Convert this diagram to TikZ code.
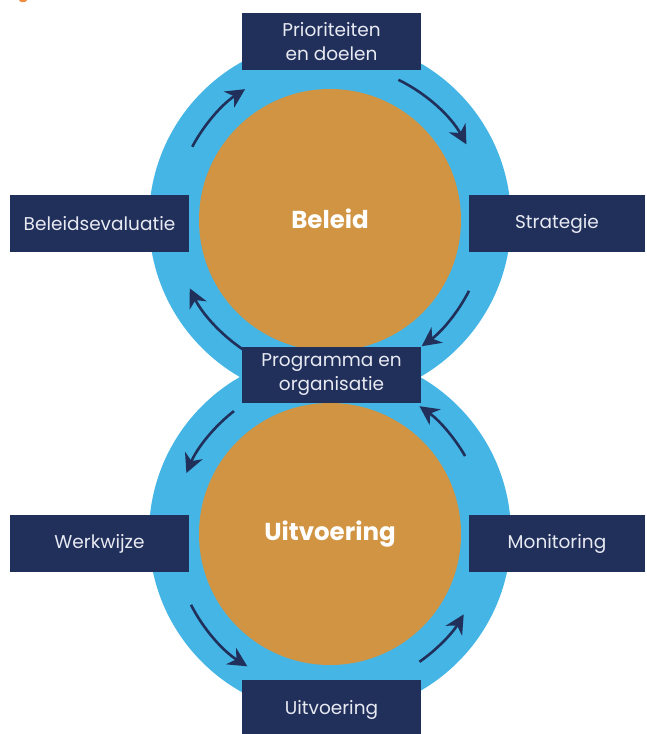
\documentclass[tikz,border=0pt]{standalone}
\usepackage{fontspec}
\setmainfont{Poppins}
\usetikzlibrary{arrows.meta,calc}
\definecolor{ringblue}{HTML}{44B5E4}
\definecolor{coreorange}{HTML}{D09443}
\definecolor{boxnavy}{HTML}{212F5B}
\definecolor{boxtext}{HTML}{E8EAF2}
\definecolor{caporange}{HTML}{F08A3C}
\tikzset{
  stagebox/.style={fill=boxnavy, text=boxtext, inner sep=0pt, align=center,
    minimum width=179pt, minimum height=57pt,
    font=\fontsize{18.5}{24}\selectfont},
  corelabel/.style={text=white, font=\fontsize{24.5}{28}\selectfont\bfseries},
  cyclearrow/.style={draw=boxnavy, line width=2.6pt,
    -{Stealth[length=19pt,width=19pt,inset=6pt]}},
}
\begin{document}
\begin{tikzpicture}[x=1pt,y=-1pt]
\useasboundingbox (0,0) rectangle (646,734);
% cropped caption fragment
\fill[caporange] (23,0) ellipse [x radius=4, y radius=2.2];
\coordinate (ctop) at (330,220);
\coordinate (cbot) at (330,534);
% rings
\fill[ringblue] (ctop) circle[radius=181];
\fill[ringblue] (cbot) circle[radius=181];
\fill[coreorange] (ctop) circle[radius=131];
\fill[coreorange] (cbot) circle[radius=131];
\node[corelabel] (beleid) at ($(ctop)+(0,-1)$) {Beleid};
\node[corelabel] (uitvcore) at ($(cbot)+(0,0)$) {Uitvoering};
% arrows, top cycle (visual angles negated because y points down)
\draw[cyclearrow] (ctop) ++(-152:156) arc[start angle=-152, end angle=-123, radius=156];
\draw[cyclearrow] (ctop) ++(-64:156) arc[start angle=-64, end angle=-29, radius=156];
\draw[cyclearrow] (ctop) ++(27:156) arc[start angle=27, end angle=54, radius=156];
\draw[cyclearrow] (ctop) ++(124:156) arc[start angle=124, end angle=154, radius=156];
% arrows, bottom cycle
\draw[cyclearrow] (cbot) ++(-128:156) arc[start angle=-128, end angle=-157, radius=156];
\draw[cyclearrow] (cbot) ++(153:156) arc[start angle=153, end angle=122, radius=156];
\draw[cyclearrow] (cbot) ++(55:156) arc[start angle=55, end angle=31, radius=156];
\draw[cyclearrow] (cbot) ++(-30:156) arc[start angle=-30, end angle=-55, radius=156];
% boxes
\node[stagebox] (prio) at (331.5,41.5) {Prioriteiten\\en doelen};
\node[stagebox, minimum width=176pt] (strat) at (557,223.5) {Strategie};
\node[stagebox] (beval) at (99.5,223.5) {Beleidsevaluatie};
\node[stagebox, minimum height=56pt] (prog) at (331.5,375) {Programma en\\organisatie};
\node[stagebox] (werk) at (99.5,543.5) {Werkwijze};
\node[stagebox, minimum width=176pt] (moni) at (557,543.5) {Monitoring};
\node[stagebox, minimum height=54pt, text depth=0pt] (uitv) at (331.5,707) {Uitvoering};
\end{tikzpicture}
\end{document}
